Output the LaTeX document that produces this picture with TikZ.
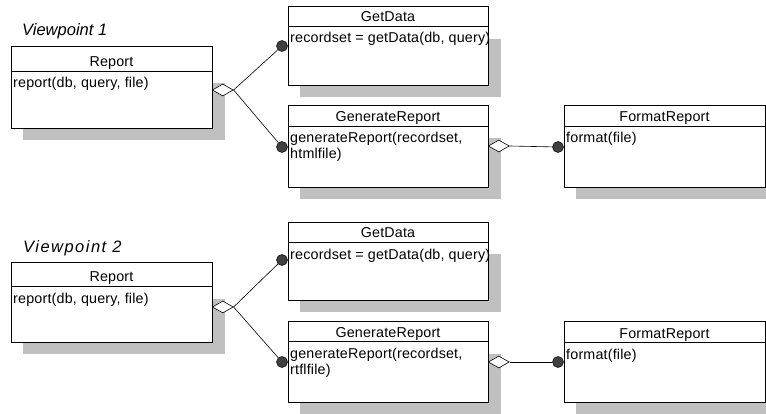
\documentclass[tikz,border=0pt]{standalone}
\usepackage{fontspec}
\setmainfont[LetterSpace=1.3]{Liberation Sans}
\newfontfamily\widesans[LetterSpace=9]{Liberation Sans}
\newfontfamily\plainsans{Liberation Sans}
\usetikzlibrary{shapes.geometric}

\definecolor{shadowgray}{HTML}{C0C0C0}
\definecolor{jointgray}{HTML}{404040}

\tikzset{
  classframe/.style={draw, line width=0.8pt, fill=white, inner sep=0pt},
  shadowfill/.style={fill=shadowgray},
  divider/.style={line width=0.8pt},
  titletext/.style={inner sep=0pt, font=\fontsize{14.3}{16}\selectfont},
  bodytext/.style={inner sep=0pt, font=\fontsize{14.3}{16}\selectfont},
  vplabel/.style={inner sep=0pt, font=\fontsize{16.5}{19}\selectfont\plainsans\itshape},
  aggr/.style={shape=diamond, draw, fill=white, line width=0.6pt,
    minimum width=21pt, minimum height=12pt, inner sep=0pt},
  joint/.style={circle, draw, fill=jointgray, line width=0.5pt,
    minimum size=11pt, inner sep=0pt},
  link/.style={line width=0.6pt},
}

% class box: name, left, top, right, bottom, divider y, title, body, shadow top
\newcommand\classbox[9]{%
  \fill[shadowfill] (#2+12,#9) rectangle (#4+13,#5+12);
  \node[classframe, anchor=north west,
        minimum width=#4-#2, minimum height=#5-#3] (#1) at (#2,#3) {};
  \draw[divider] (#2,#6) -- (#4,#6);
  \node[titletext, anchor=base] (#1-title) at ({(#2+#4)/2},#6-4) {#7};
  \node[bodytext, anchor=base west] (#1-body) at (#2+2,#6+17) {#8};
}
\newcommand\twolines[2]{\vtop{\baselineskip=16pt\hbox{#1}\hbox{#2}}}

\begin{document}
\begin{tikzpicture}[x=1pt,y=-1pt]
\useasboundingbox (0,0) rectangle (766,414);

% ---------- first variant ----------
\node[vplabel, anchor=base west] (vp1) at (22,36) {Viewpoint 1};
\classbox{rep1}{11}{46}{212}{128}{71}{Report}{report(db, query, file)}{83}
\classbox{get1}{288}{6}{488}{85}{26}{GetData}{recordset = getData(db, query)}{39}
\classbox{gen1}{288}{105}{488}{187}{126}{GenerateReport}%
  {\twolines{generateReport(recordset,}{htmlfile)}}{138}
\classbox{fmt1}{564}{105}{765}{187}{126}{FormatReport}{format(file)}{138}

\node[aggr, anchor=west] (rep1-d) at (212,90) {};
\node[aggr, anchor=west] (gen1-d) at (488,146) {};
\node[joint] (get1-c) at (282,46) {};
\node[joint] (gen1-c) at (282,147) {};
\node[joint] (fmt1-c) at (558,147) {};
\draw[link] (rep1-d.east) -- (get1-c);
\draw[link] (rep1-d.east) -- (gen1-c);
\draw[link] (gen1-d.east) -- (fmt1-c);

% ---------- second variant ----------
\node[vplabel, font=\fontsize{16.5}{19}\selectfont\widesans\itshape,
      anchor=base west] (vp2) at (23,253) {Viewpoint 2};
\classbox{rep2}{11}{262}{212}{342}{286}{Report}{report(db, query, file)}{299}
\classbox{get2}{288}{222}{488}{300}{242}{GetData}{recordset = getData(db, query)}{254}
\classbox{gen2}{288}{321}{488}{402}{341}{GenerateReport}%
  {\twolines{generateReport(recordset,}{rtflfile)}}{354}
\classbox{fmt2}{564}{321}{765}{402}{342}{FormatReport}{format(file)}{354}

\node[aggr, anchor=west] (rep2-d) at (212,307) {};
\node[aggr, anchor=west] (gen2-d) at (488,362) {};
\node[joint] (get2-c) at (282,260) {};
\node[joint] (gen2-c) at (282,362) {};
\node[joint] (fmt2-c) at (558,362) {};
\draw[link] (rep2-d.east) -- (get2-c);
\draw[link] (rep2-d.east) -- (gen2-c);
\draw[link] (gen2-d.east) -- (fmt2-c);
\end{tikzpicture}
\end{document}
